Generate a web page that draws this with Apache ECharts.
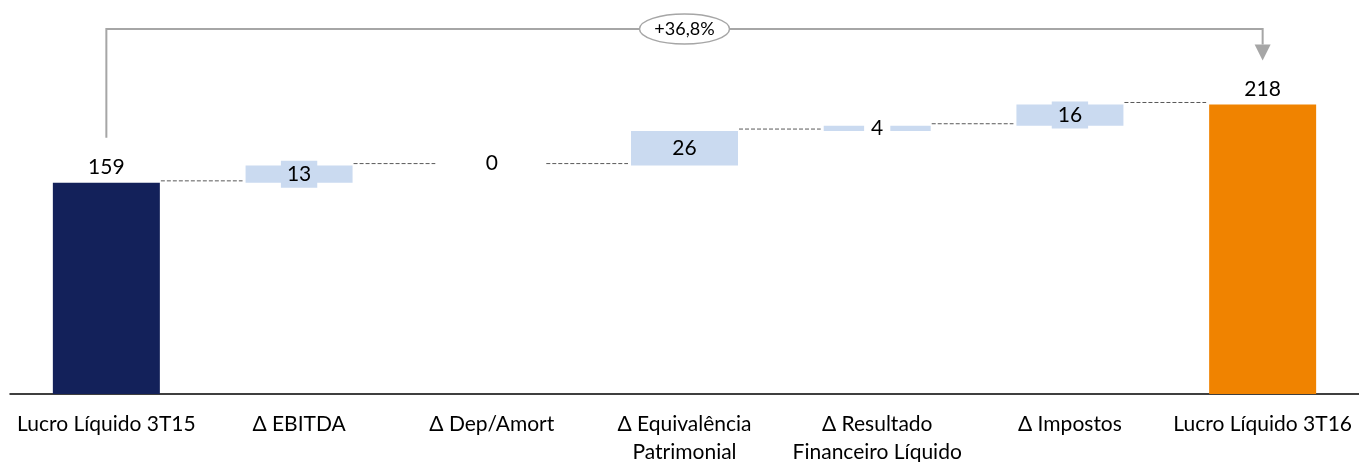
<!DOCTYPE html>
<html><head><meta charset="utf-8">
<script src="https://cdn.jsdelivr.net/npm/echarts@6.0.0/dist/echarts.min.js"></script>
<style>html,body{margin:0;padding:0;background:#fff}#c{width:1359px;height:462px}</style>
</head><body><div id="c"></div>
<script>
const categories = ['Lucro Líquido 3T15','Δ EBITDA','Δ Dep/Amort','Δ Equivalência\nPatrimonial','Δ Resultado\nFinanceiro Líquido','Δ Impostos','Lucro Líquido 3T16'];
const startValue = 159;
const deltas = [13, 0, 26, 4, 16];
const endValue = 218;
const growthLabel = '+36,8%';

const FONT = 'Lato';
const NAVY = '#13215a', ORANGE = '#f08300', LIGHT = '#cadaf0', GREY = '#a6a6a6';
const BARW = 107;

// build waterfall structure
const base = [0], vis = [startValue];
let run = startValue;
deltas.forEach(d => { base.push(run); vis.push(d); run += d; });
base.push(0); vis.push(endValue);
const levels = vis.map((v, i) => base[i] + v).slice(0, vis.length - 1);

const barData = vis.map((v, i) => {
  const isTotal = i === 0 || i === vis.length - 1;
  const color = i === 0 ? NAVY : (i === vis.length - 1 ? ORANGE : LIGHT);
  const item = { value: v, itemStyle: { color } };
  if (isTotal) {
    item.label = { show: true, position: 'top', distance: 5 };
  } else if (v === 0) {
    item.label = { show: true, position: 'inside', offset: [0, -2] };
  } else if (v < 8) {
    item.label = { show: true, position: 'inside', backgroundColor: '#fff', padding: [2, 7] };
  } else {
    item.label = { show: true, position: 'inside', backgroundColor: LIGHT, padding: [3, 6] };
  }
  return item;
});

const chart = echarts.init(document.getElementById('c'), null, { renderer: 'canvas' });
chart.setOption({
  animation: false,
  textStyle: { fontFamily: FONT },
  grid: { left: 10, right: 0, top: 62, bottom: 68, containLabel: false, outerBoundsMode: 'none' },
  xAxis: {
    type: 'category', data: categories,
    axisLine: { lineStyle: { color: '#000', width: 1.5 } },
    axisTick: { show: false },
    axisLabel: { color: '#000', fontSize: 21, fontFamily: FONT, lineHeight: 28, margin: 16, interval: 0 }
  },
  yAxis: { type: 'value', min: 0, max: 250, show: false, splitLine: { show: false } },
  series: [
    { type: 'bar', stack: 'w', data: base, barWidth: BARW, itemStyle: { color: 'transparent' }, silent: true },
    { type: 'bar', stack: 'w', data: barData, barWidth: BARW,
      label: { color: '#000', fontSize: 21, fontFamily: FONT } },
    { type: 'custom', data: levels.map((l, i) => [i, l]),
      renderItem: function (params, api) {
        const p = api.coord([api.value(0), api.value(1)]);
        const w = api.size([1, 0])[0];
        return {
          type: 'line',
          shape: { x1: p[0] + BARW / 2 + 1, y1: p[1] - 2, x2: p[0] + w - BARW / 2 - 3, y2: p[1] - 2 },
          style: { stroke: '#595959', lineWidth: 1, lineDash: [4, 2] }
        };
      }, z: 1 }
  ]
});

const p0 = chart.convertToPixel({ seriesIndex: 1 }, [0, startValue]);
const p6 = chart.convertToPixel({ seriesIndex: 1 }, [vis.length - 1, endValue]);
const yB = 29;
const cx = (p0[0] + p6[0]) / 2;
chart.setOption({
  graphic: [
    { type: 'polyline', shape: { points: [[p0[0], p0[1] - 45], [p0[0], yB], [p6[0], yB], [p6[0], p6[1] - 60]] },
      style: { stroke: GREY, lineWidth: 2, fill: null } },
    { type: 'polygon', shape: { points: [[p6[0] - 8, p6[1] - 60], [p6[0] + 8, p6[1] - 60], [p6[0], p6[1] - 44]] },
      style: { fill: GREY } },
    { type: 'ellipse', shape: { cx: cx, cy: yB, rx: 45, ry: 15 },
      style: { fill: '#fff', stroke: GREY, lineWidth: 1.5 } },
    { type: 'text', x: cx, y: yB,
      style: { text: growthLabel, textAlign: 'center', textVerticalAlign: 'middle', font: '18px ' + FONT, fill: '#000' } }
  ]
});
</script></body></html>
